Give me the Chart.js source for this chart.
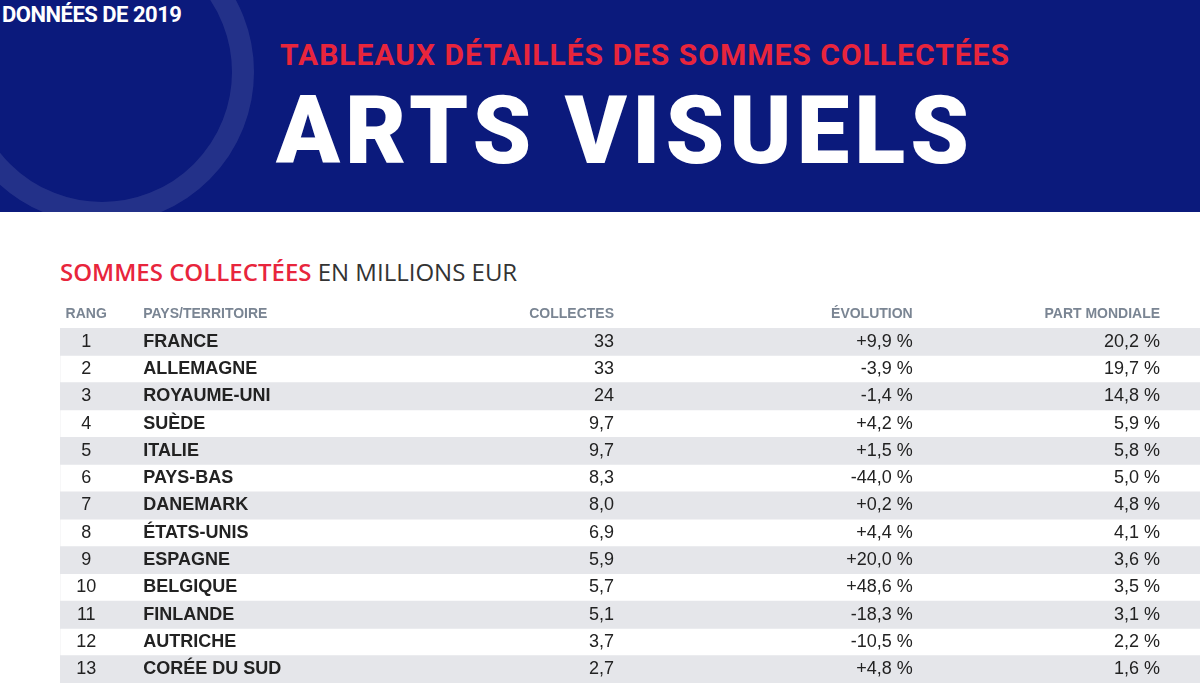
<!DOCTYPE html>
<html><head><meta charset="utf-8">
<script src="https://cdn.jsdelivr.net/npm/chart.js@4"></script>
<style>
body{margin:0;width:1200px;height:683px;overflow:hidden;background:#fff;font-family:'Liberation Sans Narrow','Roboto',sans-serif;position:relative}
.banner{position:absolute;left:0;top:0;width:1200px;height:212px;background:#0b1a7c;overflow:hidden}
.ring{position:absolute;left:-50px;top:-80px;width:260px;height:260px;border-radius:50%;border:22px solid rgba(255,255,255,0.10)}
.year{position:absolute;left:2px;top:2px;color:#fff;font:bold 22px 'Roboto',sans-serif;letter-spacing:-0.5px}
.sub{position:absolute;left:280px;top:37px;color:#e8253c;font:bold 30px 'Roboto',sans-serif;letter-spacing:1px}
.big{position:absolute;left:276px;top:76px;color:#fff;font:900 94px 'Roboto',sans-serif;letter-spacing:5px}
.title{position:absolute;left:60px;top:255px;font-size:24px;color:#333;font-family:'Open Sans',sans-serif}
.title span{color:#e8253c;font-weight:600}
#wrap{position:absolute;left:60px;top:298px;width:1140px;height:385px}
</style></head><body>
<div class="banner"><div class="ring"></div><div class="year">DONNÉES DE 2019</div>
<div class="sub">TABLEAUX DÉTAILLÉS DES SOMMES COLLECTÉES</div>
<div class="big">ARTS VISUELS</div></div>
<div class="title"><span>SOMMES COLLECTÉES</span> EN MILLIONS EUR</div>
<div id="wrap"><canvas id="c"></canvas></div>
<script>
const headers = ['RANG', 'PAYS/TERRITOIRE', 'COLLECTES', 'ÉVOLUTION', 'PART MONDIALE'];
const ranks = ['1','2','3','4','5','6','7','8','9','10','11','12','13'];
const countries = ['FRANCE','ALLEMAGNE','ROYAUME-UNI','SUÈDE','ITALIE','PAYS-BAS','DANEMARK','ÉTATS-UNIS','ESPAGNE','BELGIQUE','FINLANDE','AUTRICHE','CORÉE DU SUD'];
const collectes = ['33','33','24','9,7','9,7','8,3','8,0','6,9','5,9','5,7','5,1','3,7','2,7'];
const evolution = ['+9,9 %','-3,9 %','-1,4 %','+4,2 %','+1,5 %','-44,0 %','+0,2 %','+4,4 %','+20,0 %','+48,6 %','-18,3 %','-10,5 %','+4,8 %'];
const part = ['20,2 %','19,7 %','14,8 %','5,9 %','5,8 %','5,0 %','4,8 %','4,1 %','3,6 %','3,5 %','3,1 %','2,2 %','1,6 %'];
const stripes = countries.map((c, i) => i % 2 === 0 ? 1 : 0);

// colonnes : position x (0..1 sur l'échelle) et alignement
const cols = [
  {x: 0.023, align: 'center'},
  {x: 0.073, align: 'left'},
  {x: 0.486, align: 'right'},
  {x: 0.748, align: 'right'},
  {x: 0.965, align: 'right'}
];

const tablePlugin = {
  id: 'table',
  afterDatasetsDraw(chart) {
    const {ctx, scales: {x, y}} = chart;
    ctx.save();
    ctx.textBaseline = 'middle';
    ctx.fillStyle = '#7a8593';
    ctx.font = "bold 14px 'Liberation Sans Narrow', sans-serif";
    headers.forEach((h, j) => {
      ctx.textAlign = cols[j].align;
      ctx.fillText(h, x.getPixelForValue(cols[j].x), y.top - 14);
    });
    countries.forEach((c, i) => {
      const py = y.getPixelForValue(i);
      const row = [ranks[i], c, collectes[i], evolution[i], part[i]];
      row.forEach((t, j) => {
        ctx.fillStyle = '#222';
        ctx.font = (j === 1 ? 'bold ' : '') + "18px 'Liberation Sans Narrow', sans-serif";
        ctx.textAlign = cols[j].align;
        ctx.fillText(t, x.getPixelForValue(cols[j].x), py);
      });
    });
    ctx.restore();
  }
};

new Chart(document.getElementById('c'), {
  type: 'bar',
  data: {labels: countries, datasets: [{data: stripes, backgroundColor: '#e5e6ea', barPercentage: 1, categoryPercentage: 1}]},
  options: {
    indexAxis: 'y', responsive: true, maintainAspectRatio: false, animation: false,
    layout: {padding: {top: 30, left: 0, right: 0, bottom: 0}},
    plugins: {legend: {display: false}, tooltip: {enabled: false}},
    scales: {x: {display: false, min: 0, max: 1}, y: {display: false}}
  },
  plugins: [tablePlugin]
});
</script></body></html>
